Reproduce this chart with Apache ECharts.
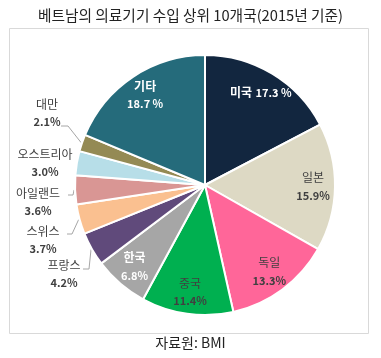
<!DOCTYPE html>
<html><head><meta charset="utf-8">
<script src="https://cdn.jsdelivr.net/npm/echarts@6/dist/echarts.min.js"></script>
<style>html,body{margin:0;padding:0;background:#fff}#c{width:381px;height:358px}</style>
</head><body><div id="c"></div>
<script>
const categories = ['미국','일본','독일','중국','한국','프랑스','스위스','아일랜드','오스트리아','대만','기타'];
const shares = [17.3,15.9,13.3,11.4,6.8,4.2,3.7,3.6,3.0,2.1,18.7];
const titleText = '베트남의 의료기기 수입 상위 10개국(2015년 기준)';
const sourceText = '자료원: BMI';

const colors = ['#12263F','#DDD9C4','#FF6699','#00B050','#A6A6A6','#604A7B','#FAC090','#D99694','#B7DEE8','#948A54','#256B7B'];
const insideColors = {0:'#ffffff',1:'#404040',2:'#404040',3:'#404040',4:'#ffffff',10:'#ffffff'};
const outsidePos = {5:[64,274],6:[43,240],7:[38,202],8:[45,163],9:[47,113]};
// leader start [x, y, elbowX]; the end point is computed from the slice geometry
const leaderStart = {9:[61,126,68],7:[68,195,73],6:[67,234,72],5:[83,269,89]};
const FONT = "'Noto Sans CJK KR', sans-serif";
const CX = 205, CY = 185, R = 130;

const total = shares.reduce((a,b)=>a+b,0);
function anchorOf(i){
  let before = 0;
  for (let k=0;k<i;k++) before += shares[k];
  const mid = (before + shares[i]/2)/total*2*Math.PI;
  return [CX + (R+1)*Math.sin(mid), CY - (R+1)*Math.cos(mid)];
}

const chart = echarts.init(document.getElementById('c'), null, {renderer:'canvas'});

const sectorData = categories.map((n,i)=>{
  const outside = outsidePos[i] !== undefined;
  return {
    name:n, value:shares[i],
    itemStyle:{color:colors[i]},
    label:{show:outside},
    labelLine:{show:leaderStart[i] !== undefined}
  };
});

const labelData = categories.map((n,i)=>{
  const inside = insideColors[i] !== undefined;
  const c = insideColors[i] || '#fff';
  const white = c === '#ffffff';
  let fmt;
  if (i === 0) fmt = '{n|' + n + '} {v|' + shares[i].toFixed(1) + ' %}';
  else if (i === 10) fmt = '{n|' + n + '}\n{v|' + shares[i].toFixed(1) + ' %}';
  else fmt = '{n|' + n + '}\n{v|' + shares[i].toFixed(1) + '%}';
  return {
    name:n, value:shares[i],
    itemStyle:{color:'rgba(0,0,0,0)', borderWidth:0},
    label:{show:inside, formatter:fmt,
      rich:{n:{color:c,fontSize:12,fontFamily:FONT,lineHeight:18,fontWeight:white?'bold':'normal'},
            v:{color:c,fontSize:11,fontFamily:FONT,lineHeight:18,fontWeight:'bold'}}}
  };
});

chart.setOption({
  animation:false,
  backgroundColor:'#ffffff',
  title:{text:titleText,left:'center',top:3,textStyle:{fontFamily:FONT,fontSize:14.7,fontWeight:'normal',color:'#222'}},
  graphic:[
    {type:'rect',shape:{x:9.5,y:28.5,width:359,height:305},style:{fill:'none',stroke:'#D9D9D9',lineWidth:1},z:-1},
    {type:'text',left:'center',top:336,style:{text:sourceText,font:'14px ' + FONT,fill:'#222'}}
  ],
  series:[
    {
      type:'pie', center:[CX,CY], radius:[0,R], startAngle:90, clockwise:true,
      avoidLabelOverlap:false, silent:true,
      itemStyle:{borderColor:'#ffffff',borderWidth:2},
      label:{position:'outside',color:'#404040',fontFamily:FONT,
        formatter:p=>'{n|'+p.name+'}\n{v|'+p.value.toFixed(1)+'%}',
        rich:{n:{fontSize:12,color:'#404040',fontFamily:FONT,lineHeight:18},v:{fontSize:11,color:'#404040',fontFamily:FONT,lineHeight:18,fontWeight:'bold'}}},
      labelLine:{length:8,length2:8,lineStyle:{color:'#A6A6A6',width:1}},
      labelLayout:function(p){
        const i = p.dataIndex;
        const pos = outsidePos[i];
        if (!pos) return {};
        const res = {x:pos[0], y:pos[1], align:'center', verticalAlign:'middle'};
        const ls = leaderStart[i];
        if (ls) {
          const a = anchorOf(i);
          res.labelLinePoints = [[ls[0],ls[1]],[ls[2],ls[1]],a];
        }
        return res;
      },
      data:sectorData
    },
    {
      type:'pie', center:[CX,CY], radius:[80,R], startAngle:90, clockwise:true,
      avoidLabelOverlap:false, silent:true, z:5,
      label:{position:'inside'},
      labelLine:{show:false},
      data:labelData
    }
  ]
});
</script></body></html>
